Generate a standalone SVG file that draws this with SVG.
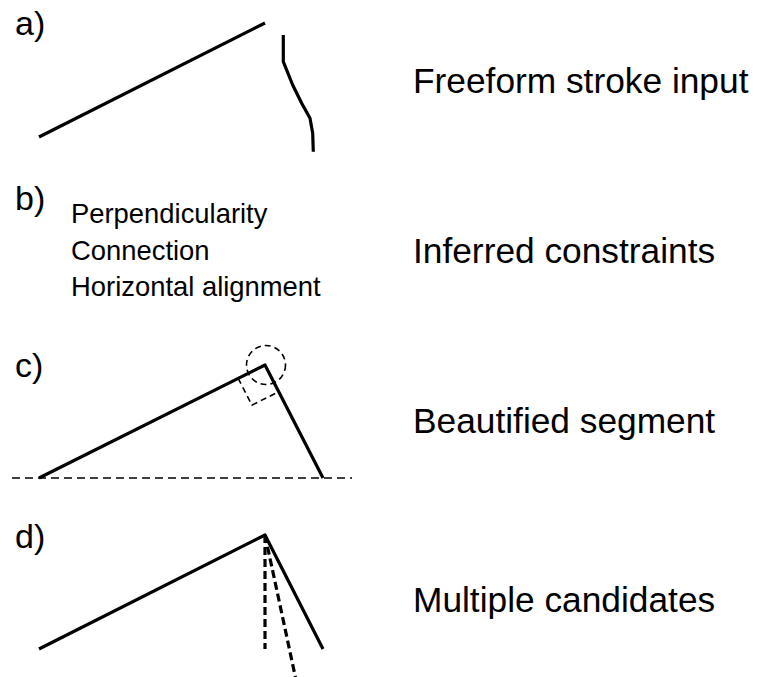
<svg xmlns="http://www.w3.org/2000/svg" width="758" height="677" viewBox="0 0 758 677">
  <style>
    .label { font-family: "Liberation Sans", Arial, sans-serif; font-size: 34px; fill: #000; }
    .caption { font-family: "Liberation Sans", Arial, sans-serif; font-size: 35.3px; fill: #000; }
    .small { font-family: "Liberation Sans", Arial, sans-serif; font-size: 27.4px; fill: #000; }
    .stroke { fill: none; stroke: #000; stroke-width: 3.2; stroke-linecap: butt; stroke-linejoin: round; }
    .guide { fill: none; stroke: #000; stroke-width: 1.6; stroke-dasharray: 8 5; }
    .aux { fill: none; stroke: #000; stroke-width: 1.6; stroke-dasharray: 6 4; }
    .cand { fill: none; stroke: #000; stroke-width: 3.2; stroke-dasharray: 8 4; }
  </style>

  <!-- a) raw strokes -->
  <g id="panel-a">
    <text class="label" x="15" y="35">a)</text>
    <line class="stroke" x1="39" y1="137" x2="265" y2="23"/>
    <polyline class="stroke" points="283.3,35 283.3,61.7 286,68.3 292.7,85 301.7,103.3 306,111 310,118.3 312.7,133.3 313.3,151.7"/>
    <text class="caption" x="413" y="93">Freeform stroke input</text>
  </g>

  <!-- b) detected constraints -->
  <g id="panel-b">
    <text class="label" x="15" y="210">b)</text>
    <text class="small" x="71" y="223">Perpendicularity</text>
    <text class="small" x="71" y="260">Connection</text>
    <text class="small" x="71" y="296">Horizontal alignment</text>
    <text class="caption" x="413" y="263">Inferred constraints</text>
  </g>

  <!-- c) cleaned-up segment -->
  <g id="panel-c">
    <text class="label" x="15" y="377">c)</text>
    <line class="guide" x1="12" y1="478" x2="352" y2="478"/>
    <circle class="aux" cx="266" cy="365" r="19.5"/>
    <polyline class="aux" points="238.2,378.4 251.9,405.1 278.7,391.7"/>
    <polyline class="stroke" points="39,478 265,365 323,478"/>
    <text class="caption" x="413" y="433">Beautified segment</text>
  </g>

  <!-- d) alternative results -->
  <g id="panel-d">
    <text class="label" x="15" y="548">d)</text>
    <line class="cand" x1="265" y1="535" x2="265" y2="649"/>
    <line class="cand" x1="265" y1="535" x2="296" y2="680"/>
    <polyline class="stroke" points="39,649 265,535 323,649"/>
    <text class="caption" x="413" y="612">Multiple candidates</text>
  </g>
</svg>
